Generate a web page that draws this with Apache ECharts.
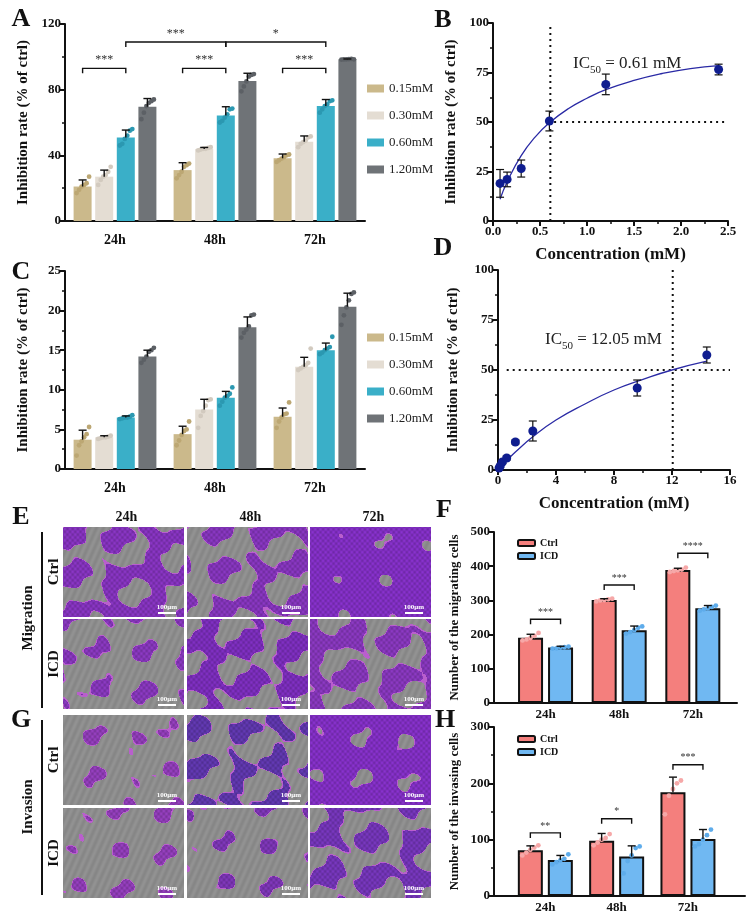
<!DOCTYPE html>
<html>
<head>
<meta charset="utf-8">
<script src="https://cdn.jsdelivr.net/npm/echarts@6/dist/echarts.min.js"></script>
<style>
html,body{margin:0;padding:0;background:#fff}
#main{width:747px;height:921px}
</style>
</head>
<body>
<div id="main"></div>
<script>
// ---- data ----
var hours = ['24h', '48h', '72h'];
var doses = ['0.15mM', '0.30mM', '0.60mM', '1.20mM'];
var groups = ['Ctrl', 'ICD'];

// A: inhibition rate, rows = dose, cols = hour
var aMean = [[21, 31, 38.2], [27, 43.9, 48.3], [50.8, 64.2, 70], [69.6, 85.3, 98.5]];
var aSd = [[4, 4.5, 2.6], [4, 0.9, 3.5], [4.6, 5.4, 4], [5, 4.7, 0.2]];
var aDots = [
  [[17, 19, 21, 22, 23, 27], [26, 28, 30, 33, 34, 35], [36, 37, 38, 39, 40, 40.5]],
  [[22, 25, 27, 28, 30, 33], [43, 43.5, 44, 44, 44.5, 45], [45, 47, 48, 49, 51, 51.5]],
  [[46, 47, 50, 52, 55, 56], [60, 61, 63, 65, 68, 68.5], [66, 68, 70, 71, 73, 73.5]],
  [[62, 66, 70, 72, 73, 74], [79, 82, 85, 88, 89, 89.5], [98.3, 98.4, 98.5, 98.6, 98.7, 98.5]]
];
var aSig = [[0, 0, 0, 2, 93, '***'], [1, 0, 1, 2, 93, '***'], [2, 0, 2, 2, 93, '***'],
            [0, 2, 1, 2, 109, '***'], [1, 2, 2, 2, 109, '*']];

// B: dose response, drug 1
var bConc = [0.075, 0.15, 0.3, 0.6, 1.2, 2.4];
var bRate = [19, 21, 26.5, 50.5, 69, 76.5];
var bSd = [7, 3.7, 4.3, 5, 5.2, 2.7];
var bFit = [[0.075, 11], [0.15, 19.7], [0.3, 33], [0.45, 42.5], [0.6, 49.6], [0.8, 56.7], [1.0, 62],
            [1.2, 66.3], [1.5, 71], [1.8, 74.5], [2.1, 77], [2.4, 78.5]];
var bIC50 = 0.61;

// C: inhibition rate, second set
var cMean = [[3.7, 4.4, 6.6], [4.0, 7.5, 12.9], [6.5, 9.0, 15.0], [14.2, 17.9, 20.5]];
var cSd = [[1.2, 1.0, 1.1], [0.2, 1.3, 1.2], [0.2, 0.8, 0.9], [0.8, 1.3, 1.7]];
var cDots = [
  [[1.7, 3.0, 3.5, 4.0, 4.4, 5.3], [3.0, 3.6, 4.3, 4.8, 5.0, 6.0], [5.2, 6.0, 6.5, 6.9, 7.0, 8.4]],
  [[3.8, 3.9, 4.0, 4.0, 4.1, 4.2], [5.2, 6.7, 7.3, 8.0, 8.7, 8.8], [12.5, 12.7, 12.9, 13.1, 13.4, 15.2]],
  [[6.3, 6.4, 6.5, 6.5, 6.6, 6.8], [8.0, 8.5, 9.0, 9.2, 9.5, 10.3], [14.5, 14.7, 15.0, 15.2, 15.4, 16.7]],
  [[13.4, 13.8, 14.2, 14.8, 15.0, 15.3], [16.6, 17.2, 17.6, 18.0, 19.4, 19.5], [18.2, 19.4, 20.4, 21.3, 22.1, 22.3]]
];

// D: dose response, drug 2
var dConc = [0.075, 0.15, 0.3, 0.6, 1.2, 2.4, 9.6, 14.4];
var dRate = [1, 2, 4, 6, 14, 19.5, 41, 57.5];
var dSd = [0.5, 0.8, 0.8, 1, 1, 5, 4, 4];
var dFit = [[0.075, 0.6], [0.3, 2.4], [0.6, 4.7], [1.2, 9], [2.4, 16.6], [4, 25], [6, 33], [8, 40],
            [10, 45.3], [12, 50], [14.4, 54.4]];
var dIC50 = 12.05;

// F: migrating cells
var fMean = [[191, 301, 389], [162, 213, 277]];
var fSd = [[10, 4, 5], [4, 12, 8]];
var fDots = [
  [[183, 186, 190, 196, 205], [297, 300, 301, 303, 305], [383, 386, 388, 390, 396]],
  [[159, 160, 162, 163, 165], [203, 207, 213, 220, 224], [270, 274, 277, 281, 285]]
];
var fSig = [[0, 0, 0, 1, 245, '***'], [1, 0, 1, 1, 345, '***'], [2, 0, 2, 1, 438, '****']];

// H: invading cells
var hMean = [[81, 98, 184], [64, 70, 101]];
var hSd = [[8, 13, 27], [8, 19, 17]];
var hDots = [
  [[72, 77, 82, 86, 90], [90, 95, 100, 103, 110], [145, 178, 190, 200, 205]],
  [[56, 60, 63, 66, 74], [40, 62, 72, 85, 88], [88, 92, 100, 108, 118]]
];
var hSig = [[0, 0, 0, 1, 112, '**'], [1, 0, 1, 1, 137, '*'], [2, 0, 2, 1, 233, '***']];

// ---- style ----
var FONT = 'Liberation Serif';
var INK = '#111';
var doseColors = ['#cbb98b', '#e4ddd3', '#3aafc8', '#6f7377'];
var doseDots = ['#bca773', '#d2cabf', '#2b98b1', '#5c6065'];
var grpColors = ['#f47f7d', '#70b8f2'];
var grpDots = ['#f6a8a8', '#5eaceb'];
var jit6 = [-6, -3.5, -1, 1.5, 4, 6.5];
var jit5 = [-8, -4, 0, 4, 8];

var chart = echarts.init(document.getElementById('main'));

function yAxis(gi, max, interval, minor, name, gap, size) {
  return {
    type: 'value', gridIndex: gi, min: 0, max: max, interval: interval,
    name: name, nameLocation: 'middle', nameGap: gap, nameRotate: 90,
    nameTextStyle: {fontFamily: FONT, fontWeight: 'bold', fontSize: size, color: INK},
    axisLine: {show: true, onZero: false, lineStyle: {color: INK, width: 2}},
    axisTick: {show: true, length: 5, lineStyle: {color: INK, width: 2}},
    minorTick: {show: minor, splitNumber: 2, length: 3, lineStyle: {color: INK, width: 1.5}},
    splitLine: {show: false},
    axisLabel: {fontFamily: FONT, fontWeight: 'bold', fontSize: 13, color: INK, margin: 4}
  };
}
function catAxis(gi) {
  return {
    type: 'category', gridIndex: gi, data: hours,
    axisLine: {onZero: false, lineStyle: {color: INK, width: 2}},
    axisTick: {alignWithLabel: true, length: 5, lineStyle: {color: INK, width: 2}},
    axisLabel: {fontFamily: FONT, fontWeight: 'bold', fontSize: 14, color: INK, margin: 12}
  };
}
function concAxis(gi, max, interval, digits) {
  return {
    type: 'value', gridIndex: gi, min: 0, max: max, interval: interval,
    name: 'Concentration (mM)', nameLocation: 'middle', nameGap: 25,
    nameTextStyle: {fontFamily: FONT, fontWeight: 'bold', fontSize: 17, color: INK},
    axisLine: {onZero: false, lineStyle: {color: INK, width: 2}},
    axisTick: {length: 5, lineStyle: {color: INK, width: 2}},
    minorTick: {show: true, splitNumber: 2, length: 3, lineStyle: {color: INK, width: 1.5}},
    splitLine: {show: false},
    axisLabel: {fontFamily: FONT, fontWeight: 'bold', fontSize: 13, color: INK, margin: 4,
      formatter: function (v) { return v.toFixed(digits); }}
  };
}
function groupAxis(gi, min, max) {
  return {
    type: 'value', gridIndex: gi, min: min, max: max,
    axisLine: {onZero: false, lineStyle: {color: INK, width: 2}},
    axisTick: {show: false},
    splitLine: {show: false},
    axisLabel: {customValues: [0, 1, 2], fontFamily: FONT, fontWeight: 'bold', fontSize: 13, color: INK, margin: 5,
      formatter: function (v) { return hours[Math.round(v)] || ''; }}
  };
}

// grouped-bar helpers
function errData(mean, sd) {
  var out = [];
  mean.forEach(function (row, s) { row.forEach(function (m, h) { out.push([h, m, sd[s][h], s]); }); });
  return out;
}
function dotData(dots) {
  var out = [];
  dots.forEach(function (row, s) { row.forEach(function (list, h) { list.forEach(function (v, j) { out.push([h, v, s, j]); }); }); });
  return out;
}
function errUp(n, step) {
  return function (params, api) {
    var s = api.value(3);
    var p0 = api.coord([api.value(0), api.value(1)]);
    var p1 = api.coord([api.value(0), api.value(1) + api.value(2)]);
    var x = p0[0] + (s - (n - 1) / 2) * step;
    return {type: 'group', children: [
      {type: 'line', shape: {x1: x, y1: p0[1], x2: x, y2: p1[1]}, style: {stroke: INK, lineWidth: 1.4}},
      {type: 'line', shape: {x1: x - 4, y1: p1[1], x2: x + 4, y2: p1[1]}, style: {stroke: INK, lineWidth: 1.4}}
    ]};
  };
}
function dotItem(n, step, jit, colors) {
  return function (params, api) {
    var s = api.value(2), j = api.value(3);
    var p = api.coord([api.value(0), api.value(1)]);
    return {type: 'circle', shape: {cx: p[0] + (s - (n - 1) / 2) * step + jit[j], cy: p[1], r: 2.4},
      style: {fill: colors[s]}};
  };
}
function bracketItem(n, step, sigs, fontSize) {
  return function (params, api) {
    var b = sigs[params.dataIndex];
    var pa = api.coord([b[0], b[4]]), pb = api.coord([b[2], b[4]]);
    var xa = pa[0] + (b[1] - (n - 1) / 2) * step, xb = pb[0] + (b[3] - (n - 1) / 2) * step;
    var y = pa[1];
    return {type: 'group', children: [
      {type: 'polyline', shape: {points: [[xa, y + 5], [xa, y], [xb, y], [xb, y + 5]]},
        style: {stroke: INK, lineWidth: 1.4, fill: null}},
      {type: 'text', x: (xa + xb) / 2, y: y - 2,
        style: {text: b[5], fill: '#333', font: fontSize + 'px ' + FONT, align: 'center', verticalAlign: 'bottom'}}
    ]};
  };
}
function errBoth(params, api) {
  var p0 = api.coord([api.value(0), api.value(1) - api.value(2)]);
  var p1 = api.coord([api.value(0), api.value(1) + api.value(2)]);
  var x = p0[0];
  return {type: 'group', children: [
    {type: 'line', shape: {x1: x, y1: p0[1], x2: x, y2: p1[1]}, style: {stroke: INK, lineWidth: 1.2}},
    {type: 'line', shape: {x1: x - 4, y1: p0[1], x2: x + 4, y2: p0[1]}, style: {stroke: INK, lineWidth: 1.2}},
    {type: 'line', shape: {x1: x - 4, y1: p1[1], x2: x + 4, y2: p1[1]}, style: {stroke: INK, lineWidth: 1.2}}
  ]};
}
function zip(xs, ys, extra) {
  return xs.map(function (x, i) { return extra ? [x, ys[i], extra[i]] : [x, ys[i]]; });
}

var series = [];
function addBarPanel(gi, mean, sd, dots, sigs, names, colors, dcolors, barW, gapPct, jit) {
  var n = names.length;
  var step = barW * (1 + gapPct / 100);
  names.forEach(function (name, s) {
    series.push({
      type: 'bar', name: name, xAxisIndex: gi, yAxisIndex: gi, z: 2,
      data: gi >= 4 ? mean[s].map(function (v, h) { return [h, v]; }) : mean[s],
      barWidth: barW, barGap: gapPct + '%',
      itemStyle: gi >= 4 ? {color: colors[s], borderColor: INK, borderWidth: 2} : {color: colors[s]}
    });
  });
  series.push({type: 'custom', xAxisIndex: gi, yAxisIndex: gi, z: 3, clip: false, silent: true,
    encode: {x: 0, y: 1}, data: dotData(dots), renderItem: dotItem(n, step, jit, dcolors)});
  series.push({type: 'custom', xAxisIndex: gi, yAxisIndex: gi, z: 4, clip: false, silent: true,
    encode: {x: 0, y: 1}, data: errData(mean, sd), renderItem: errUp(n, step)});
  series.push({type: 'custom', xAxisIndex: gi, yAxisIndex: gi, z: 4, clip: false, silent: true,
    encode: {x: 0, y: 1}, data: sigs.map(function (b) { return [b[0], b[4]]; }),
    renderItem: bracketItem(n, step, sigs, gi >= 4 ? 10 : 12)});
}
function addCurvePanel(gi, conc, rate, sd, fit, ic50, hStart, xMax) {
  series.push({type: 'line', xAxisIndex: gi, yAxisIndex: gi, data: [[ic50, 0], [ic50, 100]], showSymbol: false,
    silent: true, z: 1, lineStyle: {color: INK, width: 2, type: [2, 4]}});
  series.push({type: 'line', xAxisIndex: gi, yAxisIndex: gi, data: [[hStart, 50], [xMax, 50]], showSymbol: false,
    silent: true, z: 1, lineStyle: {color: INK, width: 2, type: [2, 4]}});
  series.push({type: 'line', xAxisIndex: gi, yAxisIndex: gi, data: fit, smooth: true, showSymbol: false,
    silent: true, z: 2, lineStyle: {color: '#2a2aa5', width: 1.3}});
  series.push({type: 'custom', xAxisIndex: gi, yAxisIndex: gi, z: 3, clip: false, silent: true,
    encode: {x: 0, y: 1}, data: zip(conc, rate, sd), renderItem: errBoth});
  series.push({type: 'scatter', xAxisIndex: gi, yAxisIndex: gi, z: 4, data: zip(conc, rate),
    symbolSize: 9, itemStyle: {color: '#0f1d8f', opacity: 1}});
}

addBarPanel(0, aMean, aSd, aDots, aSig, doses, doseColors, doseDots, 18, 20, jit6);
addCurvePanel(1, bConc, bRate, bSd, bFit, bIC50, 0.65, 2.5);
addBarPanel(2, cMean, cSd, cDots, [], doses, doseColors, doseDots, 18, 20, jit6);
addCurvePanel(3, dConc, dRate, dSd, dFit, dIC50, 0.6, 16);
addBarPanel(4, fMean, fSd, fDots, fSig, groups, grpColors, grpDots, 25, 20, jit5);
addBarPanel(5, hMean, hSd, hDots, hSig, groups, grpColors, grpDots, 25, 20, jit5);

// ---- micrograph tiles (E, G): stained cells on grey membrane, drawn as a texture ----
var tileX = [63, 187, 310], tileW = 121;
var tileY = [527, 619, 715, 808], tileH = 90;
// threshold of the blob field (lower = more stained area) and stain colour per tile
var tileCut = [[-0.15, 0.2, -2.4], [0.95, -0.35, -0.3], [1.3, 0.35, -1.7], [1.45, 1.45, -0.2]];
var tileStain = [
  [[140, 54, 200], [140, 56, 198], [138, 50, 208]],
  [[142, 58, 198], [130, 48, 198], [142, 58, 198]],
  [[152, 64, 194], [100, 58, 182], [138, 50, 208]],
  [[152, 64, 194], [130, 56, 190], [122, 56, 194]]
];
function tileCanvas(r, c) {
  var cv = document.createElement('canvas');
  cv.width = tileW; cv.height = tileH;
  var ctx = cv.getContext('2d');
  var img = ctx.createImageData(tileW, tileH);
  var k1 = r * 1.7 + c * 2.9, k2 = r * 2.3 + c * 1.1, k3 = r * 0.7 + c * 3.7;
  var cut = tileCut[r][c], st = tileStain[r][c];
  for (var y = 0; y < tileH; y++) {
    for (var x = 0; x < tileW; x++) {
      var v = Math.sin(x / 6.5 + k1) + Math.sin(y / 6 + k2) + Math.sin((x + 1.3 * y) / 9 + k3)
            + 0.5 * Math.sin((x - y) / 4 + k1 * 2);
      var i = (y * tileW + x) * 4, col;
      if (v > cut + 0.18) {
        var t = 0.9 + 0.1 * Math.sin(x * 1.2 + k2) * Math.sin(y * 1.1 + k1);
        col = [st[0] * t, st[1] * t, st[2] * t];
      } else if (v > cut) {
        col = [185, 95, 205];
      } else {
        var g = 140 + 6 * Math.sin(x * 0.9 + y * 0.4);
        col = [g, g, g];
      }
      img.data[i] = col[0]; img.data[i + 1] = col[1]; img.data[i + 2] = col[2]; img.data[i + 3] = 255;
    }
  }
  ctx.putImageData(img, 0, 0);
  return cv;
}
var graphic = [];
tileY.forEach(function (y, r) {
  tileX.forEach(function (x, c) {
    graphic.push({type: 'image', style: {image: tileCanvas(r, c), x: x, y: y, width: tileW, height: tileH}});
    graphic.push({type: 'text', x: x + tileW - 17, y: y + tileH - 13,
      style: {text: '100μm', fill: '#fff', font: 'bold 7px ' + FONT, align: 'center'}});
    graphic.push({type: 'line', shape: {x1: x + tileW - 26, y1: y + tileH - 4, x2: x + tileW - 8, y2: y + tileH - 4},
      style: {stroke: '#fff', lineWidth: 2}});
  });
});
function txt(x, y, s, font, rot) {
  graphic.push({type: 'text', x: x, y: y, rotation: rot || 0,
    style: {text: s, fill: INK, font: font, align: 'center', verticalAlign: 'middle'}});
}
var LET = 'bold 26px ' + FONT;
txt(21, 19, 'A', LET); txt(443, 20, 'B', LET); txt(21, 272, 'C', LET); txt(443, 248, 'D', LET);
txt(21, 517, 'E', LET); txt(444, 510, 'F', LET); txt(21, 720, 'G', LET); txt(445, 720, 'H', LET);
hours.forEach(function (h, i) { txt(tileX[i] + tileW / 2 + 3, 517, h, 'bold 14px ' + FONT); });
var ROW = 'bold 15px ' + FONT;
txt(54, 572, 'Ctrl', ROW, Math.PI / 2); txt(54, 664, 'ICD', ROW, Math.PI / 2);
txt(54, 760, 'Ctrl', ROW, Math.PI / 2); txt(54, 853, 'ICD', ROW, Math.PI / 2);
txt(28, 618, 'Migration', ROW, Math.PI / 2); txt(28, 807, 'Invasion', ROW, Math.PI / 2);
graphic.push({type: 'line', shape: {x1: 42, y1: 532, x2: 42, y2: 708}, style: {stroke: INK, lineWidth: 2}});
graphic.push({type: 'line', shape: {x1: 42, y1: 720, x2: 42, y2: 895}, style: {stroke: INK, lineWidth: 2}});
function ic50Label(x, y, val) {
  graphic.push({type: 'text', x: x, y: y,
    style: {text: '{a|IC}{b|50}{a| = ' + val + ' mM}', fill: '#222',
      rich: {a: {fontFamily: FONT, fontSize: 17, lineHeight: 20, verticalAlign: 'bottom'},
             b: {fontFamily: FONT, fontSize: 11, lineHeight: 12, verticalAlign: 'bottom', padding: [0, 0, -4, 0]}}}});
}
ic50Label(573, 52, bIC50);
ic50Label(545, 328, dIC50);

var legendText = {fontFamily: FONT, fontSize: 13, color: '#222'};
var grpLegendText = {fontFamily: FONT, fontSize: 10, fontWeight: 'bold', color: INK};

chart.setOption({
  animation: false,
  backgroundColor: '#fff',
  grid: [
    {left: 65, top: 24, width: 300, height: 197},
    {left: 493, top: 23, width: 235, height: 198},
    {left: 65, top: 271, width: 300, height: 198},
    {left: 498, top: 270, width: 232, height: 200},
    {left: 494, top: 532, width: 243, height: 171},
    {left: 494, top: 727, width: 251, height: 169}
  ],
  xAxis: [catAxis(0), concAxis(1, 2.5, 0.5, 1), catAxis(2), concAxis(3, 16, 4, 0),
          groupAxis(4, -0.70, 2.60), groupAxis(5, -0.72, 2.80)],
  yAxis: [
    yAxis(0, 120, 40, true, 'Inhibition rate (% of ctrl)', 34, 15),
    yAxis(1, 100, 25, true, 'Inhibition rate (% of ctrl)', 34, 15),
    yAxis(2, 25, 5, true, 'Inhibition rate (% of ctrl)', 34, 15),
    yAxis(3, 100, 25, true, 'Inhibition rate (% of ctrl)', 37, 15),
    yAxis(4, 500, 100, false, 'Number of the migrating cells', 33, 13),
    yAxis(5, 300, 100, true, 'Number of the invasing cells', 33, 13)
  ],
  legend: [
    {data: doses, left: 362, top: 77, orient: 'vertical', icon: 'rect', itemWidth: 17, itemHeight: 8,
      itemGap: 14, textStyle: legendText, selectedMode: false},
    {data: doses, left: 362, top: 326, orient: 'vertical', icon: 'rect', itemWidth: 17, itemHeight: 8,
      itemGap: 14, textStyle: legendText, selectedMode: false},
    {data: groups, left: 512, top: 533, orient: 'vertical', icon: 'roundRect', itemWidth: 17, itemHeight: 6,
      itemGap: 3, textStyle: grpLegendText, selectedMode: false},
    {data: groups, left: 512, top: 729, orient: 'vertical', icon: 'roundRect', itemWidth: 17, itemHeight: 6,
      itemGap: 3, textStyle: grpLegendText, selectedMode: false}
  ],
  graphic: graphic,
  series: series
});
</script>
</body>
</html>
